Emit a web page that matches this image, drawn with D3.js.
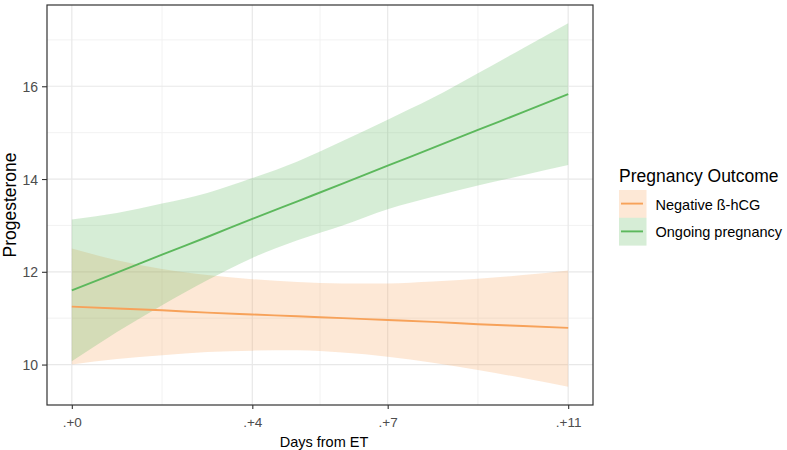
<!DOCTYPE html>
<html>
<head>
<meta charset="utf-8">
<script src="https://cdn.jsdelivr.net/npm/d3@7/dist/d3.min.js"></script>
<style>
  body { margin: 0; background: #fff; }
  text { font-family: "Liberation Sans", Arial, sans-serif; }
</style>
</head>
<body>
<svg class="chart"></svg>
<script>
var width = 787;
var height = 450;

var panel = { left: 47, right: 593, top: 5, bottom: 405 };

// days from ET, one reading per day
var days = [0, 1, 2, 3, 4, 5, 6, 7, 8, 9, 10, 11];

// Negative ß-hCG
var negFit   = [11.25, 11.21, 11.17, 11.12, 11.08, 11.04, 11.00, 10.96, 10.92, 10.87, 10.83, 10.79];
var negUpper = [12.50, 12.25, 12.06, 11.93, 11.84, 11.78, 11.75, 11.75, 11.79, 11.85, 11.93, 12.03];
var negLower = [10.00, 10.12, 10.20, 10.27, 10.30, 10.31, 10.26, 10.17, 10.04, 9.88, 9.71, 9.52];

// Ongoing pregnancy
var ongFit   = [11.60, 11.98, 12.37, 12.75, 13.14, 13.52, 13.90, 14.29, 14.67, 15.06, 15.44, 15.83];
var ongUpper = [13.13, 13.27, 13.47, 13.70, 14.02, 14.38, 14.82, 15.28, 15.75, 16.28, 16.82, 17.36];
var ongLower = [10.07, 10.70, 11.28, 11.82, 12.30, 12.68, 13.00, 13.35, 13.62, 13.86, 14.08, 14.30];

var xBreaks = [0, 4, 7, 11];
var xLabels = [".+0", ".+4", ".+7", ".+11"];
var yBreaks = [10, 12, 14, 16];

var groups = ["Negative ß-hCG", "Ongoing pregnancy"];
var colors = ["#f7a25a", "#5cb85c"];

var series = [
    { name: groups[0], color: colors[0], fit: negFit, upper: negUpper, lower: negLower },
    { name: groups[1], color: colors[1], fit: ongFit, upper: ongUpper, lower: ongLower }
];

var svg = d3.select(".chart")
    .attr("width", width)
    .attr("height", height);

// ggplot-like 5% expansion of the data range
var xExt = d3.extent(days);
var xPad = (xExt[1] - xExt[0]) * 0.05;
var x = d3.scaleLinear()
    .domain([xExt[0] - xPad, xExt[1] + xPad])
    .range([panel.left, panel.right]);

var yMin = d3.min(negLower.concat(ongLower));
var yMax = d3.max(negUpper.concat(ongUpper));
var yPad = (yMax - yMin) * 0.05;
var y = d3.scaleLinear()
    .domain([yMin - yPad, yMax + yPad])
    .range([panel.bottom, panel.top]);

// minor breaks halfway between the major ones
function minors(breaks, scale) {
    var out = [];
    for (var i = 0; i < breaks.length - 1; i++) out.push((breaks[i] + breaks[i + 1]) / 2);
    out.push(breaks[0] - (breaks[1] - breaks[0]) / 2);
    out.push(breaks[breaks.length - 1] + (breaks[breaks.length - 1] - breaks[breaks.length - 2]) / 2);
    var d = scale.domain();
    return out.filter(function(v) { return v >= d[0] && v <= d[1]; });
}

var grid = svg.append("g");

grid.selectAll("line.xminor")
    .data(minors(xBreaks, x))
    .enter().append("line")
    .attr("x1", function(d) { return x(d); })
    .attr("x2", function(d) { return x(d); })
    .attr("y1", panel.top).attr("y2", panel.bottom)
    .attr("stroke", "#f0f0f0").attr("stroke-width", 0.9);

grid.selectAll("line.yminor")
    .data(minors(yBreaks, y))
    .enter().append("line")
    .attr("y1", function(d) { return y(d); })
    .attr("y2", function(d) { return y(d); })
    .attr("x1", panel.left).attr("x2", panel.right)
    .attr("stroke", "#f0f0f0").attr("stroke-width", 0.9);

grid.selectAll("line.xmajor")
    .data(xBreaks)
    .enter().append("line")
    .attr("x1", function(d) { return x(d); })
    .attr("x2", function(d) { return x(d); })
    .attr("y1", panel.top).attr("y2", panel.bottom)
    .attr("stroke", "#e8e8e8").attr("stroke-width", 1.2);

grid.selectAll("line.ymajor")
    .data(yBreaks)
    .enter().append("line")
    .attr("y1", function(d) { return y(d); })
    .attr("y2", function(d) { return y(d); })
    .attr("x1", panel.left).attr("x2", panel.right)
    .attr("stroke", "#e8e8e8").attr("stroke-width", 1.2);

// ribbons and fitted lines
var area = d3.area()
    .x(function(d) { return x(d.day); })
    .y0(function(d) { return y(d.lo); })
    .y1(function(d) { return y(d.hi); })
    .curve(d3.curveMonotoneX);

var line = d3.line()
    .x(function(d) { return x(d.day); })
    .y(function(d) { return y(d.fit); })
    .curve(d3.curveMonotoneX);

function rows(s) {
    return days.map(function(d, i) {
        return { day: d, fit: s.fit[i], lo: s.lower[i], hi: s.upper[i] };
    });
}

svg.selectAll("path.band")
    .data(series)
    .enter().append("path")
    .attr("class", "band")
    .attr("d", function(s) { return area(rows(s)); })
    .attr("fill", function(s) { return s.color; })
    .attr("fill-opacity", 0.25);

svg.selectAll("path.fit")
    .data(series)
    .enter().append("path")
    .attr("class", "fit")
    .attr("d", function(s) { return line(rows(s)); })
    .attr("fill", "none")
    .attr("stroke", function(s) { return s.color; })
    .attr("stroke-width", 1.9);

// panel border
svg.append("rect")
    .attr("x", panel.left).attr("y", panel.top)
    .attr("width", panel.right - panel.left)
    .attr("height", panel.bottom - panel.top)
    .attr("fill", "none")
    .attr("stroke", "#333333")
    .attr("stroke-width", 1.2);

// axes
var xAxis = d3.axisBottom(x)
    .tickValues(xBreaks)
    .tickFormat(function(d, i) { return xLabels[i]; })
    .tickSize(4)
    .tickPadding(5);

var gx = svg.append("g")
    .attr("transform", "translate(0," + panel.bottom + ")")
    .call(xAxis);
gx.select(".domain").remove();
gx.selectAll(".tick line").attr("stroke", "#333333").attr("stroke-width", 1.1);
gx.selectAll(".tick text")
    .attr("fill", "#4d4d4d")
    .style("font-size", "13.5px")
    .attr("y", 21.5)
    .attr("dy", null);

var yAxis = d3.axisLeft(y)
    .tickValues(yBreaks)
    .tickSize(5)
    .tickPadding(4);

var gy = svg.append("g")
    .attr("transform", "translate(" + panel.left + ",0)")
    .call(yAxis);
gy.select(".domain").remove();
gy.selectAll(".tick line").attr("stroke", "#333333").attr("stroke-width", 1.1);
gy.selectAll(".tick text")
    .attr("fill", "#4d4d4d")
    .style("font-size", "14px")
    .attr("dy", "0.36em");

svg.append("text")
    .attr("x", (panel.left + panel.right) / 2 + 4)
    .attr("y", 446.5)
    .attr("text-anchor", "middle")
    .style("font-size", "14.5px")
    .attr("fill", "#000")
    .text("Days from ET");

svg.append("text")
    .attr("transform", "translate(16," + (panel.top + panel.bottom) / 2 + ") rotate(-90)")
    .attr("text-anchor", "middle")
    .style("font-size", "17.5px")
    .attr("fill", "#000")
    .text("Progesterone");

// legend
var legend = svg.append("g").attr("transform", "translate(619,0)");

legend.append("text")
    .attr("x", 0).attr("y", 181.5)
    .style("font-size", "17.5px")
    .attr("fill", "#000")
    .text("Pregnancy Outcome");

var keys = legend.selectAll("g.key")
    .data(series)
    .enter().append("g")
    .attr("class", "key")
    .attr("transform", function(d, i) { return "translate(0," + (190 + i * 27.8) + ")"; });

keys.append("rect")
    .attr("width", 27.5).attr("height", 27.8)
    .attr("fill", function(d) { return d.color; })
    .attr("fill-opacity", 0.25);

keys.append("line")
    .attr("x1", 2).attr("x2", 24)
    .attr("y1", 13.6).attr("y2", 13.6)
    .attr("stroke", function(d) { return d.color; })
    .attr("stroke-width", 1.9);

keys.append("text")
    .attr("x", 36.5).attr("y", 19.5)
    .style("font-size", "14.5px")
    .attr("fill", "#000")
    .text(function(d) { return d.name; });
</script>
</body>
</html>
